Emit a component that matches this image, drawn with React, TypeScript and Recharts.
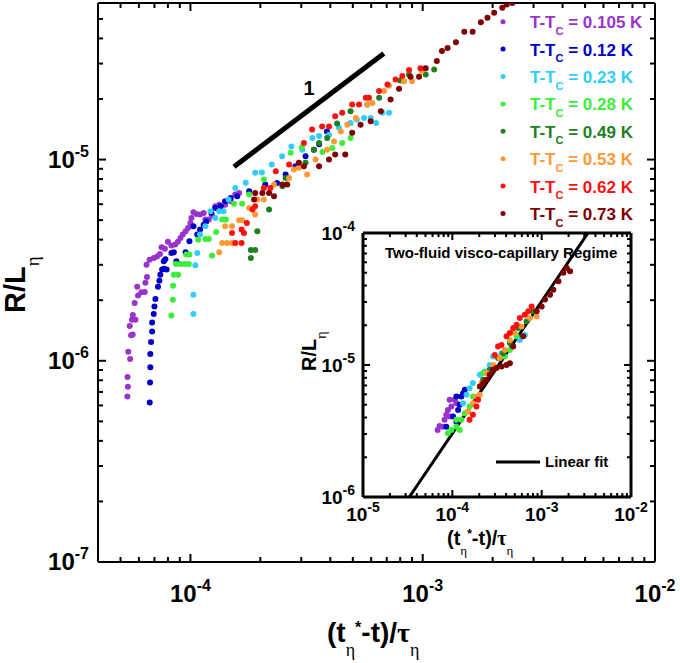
import React from 'react'
import { ScatterChart, Scatter, XAxis, YAxis } from 'recharts'

type Pt = [number, number]

// T - Tc values and colours, in legend order
const tempLabels = ['0.105', '0.12', '0.23', '0.28', '0.49', '0.53', '0.62', '0.73']
const tempColors = ['#9933CC', '#0000C8', '#33CCFF', '#3AEE3A', '#1F801F', '#FF9933', '#FF1010', '#800000']

// main panel: R/L_eta vs (t*-t)/tau_eta
const main0105: Pt[] = [
  [5.35e-5, 6.65e-7], [5.38e-5, 7.43e-7], [5.36e-5, 8.3e-7], [5.5e-5, 1.02e-6], [5.4e-5, 1.11e-6],
  [5.55e-5, 1.34e-6], [5.64e-5, 1.35e-6], [5.48e-5, 1.49e-6], [5.6e-5, 1.6e-6], [5.8e-5, 1.6e-6],
  [5.65e-5, 1.69e-6], [5.75e-5, 1.94e-6], [5.95e-5, 2.11e-6], [6.15e-5, 2.19e-6], [6.36e-5, 2.2e-6],
  [5.9e-5, 2.33e-6], [6.4e-5, 2.44e-6], [6.5e-5, 2.61e-6], [6.47e-5, 3.0e-6], [6.67e-5, 3.18e-6],
  [6.95e-5, 3.24e-6], [7.18e-5, 3.3e-6], [7.39e-5, 3.39e-6], [7.51e-5, 3.67e-6], [7.76e-5, 3.6e-6],
  [8.0e-5, 3.9e-6], [8.28e-5, 3.74e-6], [8.6e-5, 3.78e-6], [8.83e-5, 3.9e-6], [9.06e-5, 4.08e-6],
  [9.27e-5, 4.24e-6], [9.53e-5, 4.4e-6], [9.77e-5, 4.57e-6], [1.0e-4, 4.84e-6], [1.01e-4, 5.13e-6],
  [1.03e-4, 5.47e-6], [1.06e-4, 5.37e-6], [1.1e-4, 5.33e-6], [1.14e-4, 5.43e-6], [1.16e-4, 5.03e-6],
  [1.2e-4, 5.03e-6], [1.24e-4, 5.27e-6], [1.28e-4, 5.86e-6], [1.33e-4, 5.97e-6], [1.41e-4, 5.97e-6],
  [1.49e-4, 6.2e-6], [1.56e-4, 6.7e-6], [1.62e-4, 6.83e-6],
]
const main012: Pt[] = [
  [6.68e-5, 6.2e-7], [6.7e-5, 7.8e-7], [6.72e-5, 9.3e-7], [6.72e-5, 1.08e-6], [6.77e-5, 1.24e-6],
  [6.84e-5, 1.4e-6], [6.84e-5, 1.55e-6], [6.95e-5, 1.71e-6], [7.0e-5, 1.86e-6], [7.07e-5, 2.03e-6],
  [7.25e-5, 2.33e-6], [7.35e-5, 2.5e-6], [7.42e-5, 2.68e-6], [7.55e-5, 2.84e-6], [7.7e-5, 2.87e-6],
  [7.9e-5, 2.84e-6], [7.68e-5, 3.12e-6], [7.8e-5, 3.2e-6], [8.28e-5, 3.43e-6], [8.48e-5, 3.46e-6],
  [8.7e-5, 3.12e-6], [9.53e-5, 3.46e-6], [9.9e-5, 3.93e-6], [1.03e-4, 4.66e-6], [1.07e-4, 4.24e-6],
  [1.1e-4, 4.49e-6], [1.14e-4, 4.75e-6], [1.17e-4, 4.93e-6], [1.23e-4, 5.43e-6], [1.28e-4, 5.75e-6],
  [1.35e-4, 5.86e-6], [1.41e-4, 6.2e-6], [1.49e-4, 6.45e-6], [1.59e-4, 6.57e-6], [1.79e-4, 6.95e-6],
  [2.1e-4, 7.51e-6], [2.36e-4, 7.64e-6], [2.57e-4, 8.42e-6], [2.83e-4, 9.26e-6], [3.13e-4, 1.04e-5],
  [3.4e-4, 1.12e-5], [3.58e-4, 1.19e-5], [3.87e-4, 1.38e-5],
]
const main023: Pt[] = [
  [1.03e-4, 1.71e-6], [1.03e-4, 2.13e-6], [1.05e-4, 2.98e-6], [1.07e-4, 3.43e-6], [1.1e-4, 4.24e-6],
  [1.16e-4, 4.66e-6], [1.22e-4, 5.53e-6], [1.28e-4, 5.13e-6], [1.33e-4, 5.53e-6], [1.39e-4, 5.53e-6],
  [1.46e-4, 6.33e-6], [1.56e-4, 7.23e-6], [1.73e-4, 7.66e-6], [1.9e-4, 8.59e-6], [2.03e-4, 8.62e-6],
  [2.24e-4, 9.44e-6], [2.48e-4, 1.04e-5], [2.72e-4, 1.16e-5], [3.03e-4, 1.12e-5], [3.35e-4, 1.28e-5],
  [3.58e-4, 1.31e-5], [3.95e-4, 1.33e-5], [4.36e-4, 1.44e-5], [4.89e-4, 1.52e-5], [5.2e-4, 1.58e-5],
  [5.59e-4, 1.61e-5], [5.97e-4, 1.61e-5], [6.3e-4, 1.52e-5], [6.7e-4, 1.71e-5], [7.16e-4, 1.71e-5],
]
const main028: Pt[] = [
  [8.28e-5, 1.68e-6], [8.4e-5, 2.01e-6], [8.42e-5, 2.36e-6], [8.48e-5, 2.68e-6], [8.85e-5, 2.68e-6],
  [8.67e-5, 3.03e-6], [9.06e-5, 3.03e-6], [9.46e-5, 3.03e-6], [9.84e-5, 3.03e-6], [9.6e-5, 3.37e-6],
  [9.9e-5, 3.37e-6], [1.08e-4, 4.0e-6], [1.16e-4, 4.03e-6], [1.2e-4, 4.03e-6], [1.24e-4, 3.34e-6],
  [1.29e-4, 4.37e-6], [1.37e-4, 5.03e-6], [1.42e-4, 5.03e-6], [1.54e-4, 6.04e-6], [1.67e-4, 6.04e-6],
  [1.79e-4, 6.7e-6], [2.07e-4, 7.95e-6], [2.7e-4, 1.08e-5], [3.02e-4, 1.15e-5], [3.7e-4, 1.09e-5],
  [4.08e-4, 1.14e-5], [4.5e-4, 1.21e-5], [4.89e-4, 1.28e-5],
]
const main049: Pt[] = [
  [1.82e-4, 3.24e-6], [1.82e-4, 3.55e-6], [1.9e-4, 3.55e-6], [1.94e-4, 4.4e-6], [2.18e-4, 5.64e-6],
  [2.49e-4, 7.36e-6], [2.57e-4, 8.1e-6], [3.13e-4, 9.63e-6], [3.4e-4, 1.12e-5], [3.58e-4, 1.21e-5],
  [3.88e-4, 1.28e-5], [4.28e-4, 1.51e-5], [4.89e-4, 1.74e-5], [5.78e-4, 1.88e-5], [6.49e-4, 2.03e-5],
  [8.0e-4, 2.47e-5], [8.73e-4, 2.65e-5], [1.03e-3, 2.65e-5], [1.12e-3, 2.8e-5],
]
const main053: Pt[] = [
  [1.33e-4, 3.46e-6], [1.37e-4, 3.85e-6], [1.44e-4, 3.85e-6], [1.51e-4, 3.85e-6], [1.41e-4, 4.66e-6],
  [1.51e-4, 4.66e-6], [1.62e-4, 5.0e-6], [1.67e-4, 5.0e-6], [1.79e-4, 5.75e-6], [1.9e-4, 5.33e-6],
  [1.94e-4, 6.33e-6], [2.07e-4, 6.33e-6], [2.29e-4, 7.51e-6], [2.66e-4, 8.1e-6], [2.79e-4, 8.92e-6],
  [2.93e-4, 9.1e-6], [3.18e-4, 8.42e-6], [3.46e-4, 1.0e-5], [3.88e-4, 1.12e-5], [4.15e-4, 1.23e-5],
  [4.44e-4, 1.38e-5], [4.74e-4, 1.49e-5], [5.15e-4, 1.61e-5], [5.78e-4, 1.88e-5], [6.07e-4, 1.91e-5],
  [6.82e-4, 2.19e-5], [7.16e-4, 2.33e-5], [8.31e-4, 2.45e-5], [9.0e-4, 2.45e-5], [9.9e-4, 2.75e-5],
]
const main062: Pt[] = [
  [1.51e-4, 4.32e-6], [1.56e-4, 3.85e-6], [1.66e-4, 3.85e-6], [1.66e-4, 4.49e-6], [1.7e-4, 4.32e-6],
  [1.75e-4, 4.84e-6], [1.85e-4, 5.64e-6], [1.9e-4, 5.86e-6], [2.07e-4, 7.23e-6], [2.21e-4, 7.23e-6],
  [2.33e-4, 8.74e-6], [2.66e-4, 9.44e-6], [3.08e-4, 1.21e-5], [3.34e-4, 1.41e-5], [3.69e-4, 1.46e-5],
  [3.95e-4, 1.46e-5], [4.2e-4, 1.64e-5], [4.5e-4, 1.71e-5], [4.97e-4, 1.88e-5], [5.32e-4, 1.88e-5],
  [5.69e-4, 2.03e-5], [5.87e-4, 2.03e-5], [6.49e-4, 2.19e-5], [7.05e-4, 2.36e-5], [7.64e-4, 2.5e-5],
  [8.17e-4, 2.6e-5], [8.73e-4, 2.79e-5], [9.78e-4, 2.84e-5],
]
const main073: Pt[] = [
  [1.88e-4, 6.33e-6], [1.9e-4, 6.83e-6], [2.04e-4, 6.83e-6], [2.18e-4, 6.83e-6], [2.29e-4, 6.57e-6],
  [2.49e-4, 7.51e-6], [2.61e-4, 7.51e-6], [2.93e-4, 9.63e-6], [3.08e-4, 9.26e-6], [3.58e-4, 9.26e-6],
  [3.95e-4, 1.0e-5], [4.2e-4, 1.06e-5], [4.64e-4, 1.06e-5], [4.97e-4, 1.36e-5], [5.4e-4, 1.49e-5],
  [5.97e-4, 1.55e-5], [6.6e-4, 1.74e-5], [7.27e-4, 1.99e-5], [7.91e-4, 2.25e-5], [8.86e-4, 2.58e-5],
  [9.64e-4, 2.58e-5], [1.03e-3, 2.84e-5], [1.15e-3, 3.09e-5], [1.21e-3, 3.46e-5], [1.28e-3, 3.59e-5],
  [1.39e-3, 3.83e-5], [1.51e-3, 4.32e-5], [1.64e-3, 4.32e-5], [1.78e-3, 4.82e-5], [1.9e-3, 5.07e-5],
  [2.03e-3, 5.37e-5], [2.2e-3, 5.69e-5], [2.3e-3, 5.9e-5], [2.43e-3, 6.0e-5],
]

// inset: two-fluid visco-capillary regime
const inset0105: Pt[] = [
  [6.84e-5, 3.22e-6], [7.19e-5, 3.45e-6], [7.83e-5, 3.41e-6], [8.18e-5, 3.84e-6], [8.56e-5, 4.19e-6],
  [8.93e-5, 4.57e-6], [9.33e-5, 4.07e-6], [9.33e-5, 5.45e-6], [9.75e-5, 4.84e-6], [1.06e-4, 5.45e-6],
  [1.11e-4, 5.14e-6],
]
const inset012: Pt[] = [
  [8.56e-5, 3.41e-6], [1.02e-4, 4.07e-6], [1.11e-4, 3.72e-6], [1.16e-4, 4.57e-6], [1.21e-4, 4.99e-6],
  [1.11e-4, 5.77e-6], [1.26e-4, 5.77e-6], [1.32e-4, 6.12e-6], [1.38e-4, 6.49e-6],
]
const inset023: Pt[] = [
  [1.32e-4, 5.14e-6], [1.44e-4, 5.94e-6], [1.56e-4, 6.68e-6], [1.7e-4, 7.29e-6], [2.03e-4, 8.43e-6],
  [2.31e-4, 8.93e-6], [2.62e-4, 1.0e-5], [2.86e-4, 1.16e-5], [3.55e-4, 1.23e-5], [5.7e-4, 1.55e-5],
  [6.49e-4, 1.69e-5],
]
const inset028: Pt[] = [
  [8.93e-5, 3.04e-6], [9.75e-5, 3.22e-6], [1.11e-4, 3.41e-6], [1.21e-4, 3.22e-6], [1.26e-4, 3.84e-6],
  [1.11e-4, 3.84e-6], [1.38e-4, 4.31e-6], [1.56e-4, 4.84e-6], [1.7e-4, 5.77e-6], [2.21e-4, 8.68e-6],
  [3.87e-4, 1.16e-5], [4.41e-4, 1.3e-5], [5.24e-4, 1.65e-5],
]
const inset049: Pt[] = [
  [2.21e-4, 7.73e-6], [2.62e-4, 9.2e-6], [3.25e-4, 1.13e-5], [3.7e-4, 1.23e-5], [4.41e-4, 1.47e-5],
  [5.46e-4, 1.91e-5], [6.78e-4, 2.14e-5], [8.05e-4, 2.55e-5],
]
const inset053: Pt[] = [
  [1.5e-4, 4.44e-6], [1.7e-4, 5.14e-6], [1.86e-4, 5.77e-6], [2.03e-4, 5.94e-6], [2.12e-4, 7.29e-6],
  [2.41e-4, 8.68e-6], [2.86e-4, 1.0e-5], [3.4e-4, 1.13e-5], [3.87e-4, 1.3e-5], [4.41e-4, 1.55e-5],
  [5.01e-4, 1.75e-5], [5.96e-4, 1.96e-5], [7.39e-4, 2.27e-5], [8.79e-4, 2.33e-5],
]
const inset062: Pt[] = [
  [1.56e-4, 3.84e-6], [1.7e-4, 4.19e-6], [1.86e-4, 4.84e-6], [1.94e-4, 5.45e-6], [2.99e-4, 1.19e-5],
  [3.25e-4, 1.38e-5], [3.55e-4, 1.42e-5], [4.04e-4, 1.65e-5], [4.41e-4, 1.75e-5], [4.8e-4, 1.91e-5],
  [5.24e-4, 2.02e-5], [5.7e-4, 2.27e-5], [6.49e-4, 2.4e-5], [7.07e-4, 2.55e-5], [7.72e-4, 2.78e-5],
]
const inset073: Pt[] = [
  [2.03e-4, 6.87e-6], [2.21e-4, 7.29e-6], [2.41e-4, 7.73e-6], [2.62e-4, 8.43e-6], [2.86e-4, 9.2e-6],
  [3.12e-4, 9.47e-6], [3.55e-4, 9.75e-6], [4.04e-4, 1.0e-5], [4.41e-4, 1.03e-5], [4.8e-4, 1.38e-5],
  [6.21e-4, 1.65e-5], [8.79e-4, 2.55e-5], [1.0e-3, 2.78e-5], [1.09e-3, 3.13e-5], [1.24e-3, 3.41e-5],
  [1.35e-3, 3.72e-5], [1.54e-3, 4.31e-5], [1.75e-3, 4.99e-5], [1.91e-3, 5.44e-5], [2.08e-3, 5.13e-5],
]

const slopeGuide: Pt[] = [[1.54e-4, 9.2e-6], [6.8e-4, 3.37e-5]]
const linearFit: Pt[] = [[3.3e-5, 1e-6], [3.3e-3, 1e-4]]

const mainSeries = [main0105, main012, main023, main028, main049, main053, main062, main073]
const insetSeries = [inset0105, inset012, inset023, inset028, inset049, inset053, inset062, inset073]

const mainXTicks = [
  4e-5, 5e-5, 6e-5, 7e-5, 8e-5, 9e-5,
  1e-4, 2e-4, 3e-4, 4e-4, 5e-4, 6e-4, 7e-4, 8e-4, 9e-4,
  1e-3, 2e-3, 3e-3, 4e-3, 5e-3, 6e-3, 7e-3, 8e-3, 9e-3, 1e-2,
]
const mainYTicks = [
  1e-7, 2e-7, 3e-7, 4e-7, 5e-7, 6e-7, 7e-7, 8e-7, 9e-7,
  1e-6, 2e-6, 3e-6, 4e-6, 5e-6, 6e-6, 7e-6, 8e-6, 9e-6,
  1e-5, 2e-5, 3e-5, 4e-5, 5e-5, 6e-5,
]
const insetXTicks = [
  1e-5, 2e-5, 3e-5, 4e-5, 5e-5, 6e-5, 7e-5, 8e-5, 9e-5,
  1e-4, 2e-4, 3e-4, 4e-4, 5e-4, 6e-4, 7e-4, 8e-4, 9e-4,
  1e-3, 2e-3, 3e-3, 4e-3, 5e-3, 6e-3, 7e-3, 8e-3, 9e-3, 1e-2,
]
const insetYTicks = [
  1e-6, 2e-6, 3e-6, 4e-6, 5e-6, 6e-6, 7e-6, 8e-6, 9e-6,
  1e-5, 2e-5, 3e-5, 4e-5, 5e-5, 6e-5, 7e-5, 8e-5, 9e-5, 1e-4,
]

const SANS = '"Liberation Sans", Arial, sans-serif'
const SERIF = '"Liberation Serif", "Times New Roman", serif'

type Side = 'bottom' | 'top' | 'left' | 'right'
type TickCfg = {
  side: Side
  major: number
  minor: number
  label?: boolean
  font?: number
  sup?: number
  supShift?: number
  gap?: number
  shift?: number
  sw?: number
}

function LogTick(props: any) {
  const { x, y, payload, cfg } = props as { x: number; y: number; payload: { value: number }; cfg: TickCfg }
  const lg = Math.log10(payload.value)
  const isMajor = Math.abs(lg - Math.round(lg)) < 1e-6
  const len = isMajor ? cfg.major : cfg.minor
  let d = ''
  if (cfg.side === 'bottom') d = `M${x},${y}V${y - len}`
  if (cfg.side === 'top') d = `M${x},${y}V${y + len}`
  if (cfg.side === 'left') d = `M${x},${y}H${x + len}`
  if (cfg.side === 'right') d = `M${x},${y}H${x - len}`
  const exp = `${Math.round(lg)}`
  let label = null
  if (cfg.label && isMajor) {
    const font = cfg.font ?? 20
    const sup = cfg.sup ?? 14
    const baseW = 1.112 * font
    const supW = (exp.length === 2 ? 0.889 : 0.556) * sup
    const gap = cfg.gap ?? 0
    let bx = 0
    let by = 0
    if (cfg.side === 'bottom') {
      bx = x - (baseW + supW) / 2
      by = y + gap
    } else {
      bx = x - gap - supW - baseW
      by = y + (cfg.shift ?? 0)
    }
    const common = { fontFamily: SANS, fontWeight: 'bold' as const, fill: '#000' }
    label = (
      <g>
        <text x={bx} y={by} fontSize={font} {...common}>10</text>
        <text x={bx + baseW} y={by - (cfg.supShift ?? 0)} fontSize={sup} {...common}>{exp}</text>
      </g>
    )
  }
  return (
    <g>
      <path d={d} stroke="#000" strokeWidth={cfg.sw ?? 2} fill="none" />
      {label}
    </g>
  )
}

const tickFn = (cfg: TickCfg) => (p: any) => <LogTick {...p} cfg={cfg} />

const dot = (color: string, r: number) => (p: any) =>
  p.cx == null ? <g /> : <circle cx={p.cx} cy={p.cy} r={r} fill={color} />

const noShape = () => <g />

const toXY = (pts: Pt[]) => pts.map(([x, y]) => ({ x, y }))

export default function App() {
  const frame = { stroke: '#000', strokeWidth: 2 }
  const insetFrame = { stroke: '#000', strokeWidth: 3 }
  const layer: React.CSSProperties = { position: 'absolute', left: 0, top: 0 }

  return (
    <div style={{ position: 'absolute', left: 0, top: 0, width: 680, height: 663, background: '#fff' }}>
      <div style={layer}>
        <ScatterChart width={680} height={663} margin={{ top: 2, right: 0, bottom: 0, left: 0 }}>
          <XAxis
            xAxisId="b"
            dataKey="x"
            type="number"
            scale="log"
            domain={[4e-5, 1e-2]}
            allowDataOverflow
            ticks={mainXTicks}
            interval={0}
            height={101}
            stroke="#000"
            tickSize={0}
            tickMargin={0}
            tickLine={false}
            axisLine={frame}
            tick={tickFn({ side: 'bottom', major: 8, minor: 5, label: true, font: 24, sup: 16, supShift: 11, gap: 40 })}
          />
          <XAxis
            xAxisId="t"
            orientation="top"
            dataKey="x"
            type="number"
            scale="log"
            domain={[4e-5, 1e-2]}
            allowDataOverflow
            ticks={mainXTicks}
            interval={0}
            height={1}
            stroke="#000"
            tickSize={0}
            tickMargin={0}
            tickLine={false}
            axisLine={frame}
            tick={tickFn({ side: 'top', major: 8, minor: 5 })}
          />
          <YAxis
            yAxisId="l"
            dataKey="y"
            type="number"
            scale="log"
            domain={[1e-7, 6e-5]}
            allowDataOverflow
            ticks={mainYTicks}
            interval={0}
            width={98}
            stroke="#000"
            tickSize={0}
            tickMargin={0}
            tickLine={false}
            axisLine={frame}
            tick={tickFn({ side: 'left', major: 8, minor: 5, label: true, font: 24, sup: 16, supShift: 11, gap: 9, shift: 8 })}
          />
          <YAxis
            yAxisId="r"
            orientation="right"
            dataKey="y"
            type="number"
            scale="log"
            domain={[1e-7, 6e-5]}
            allowDataOverflow
            ticks={mainYTicks}
            interval={0}
            width={25}
            stroke="#000"
            tickSize={0}
            tickMargin={0}
            tickLine={false}
            axisLine={frame}
            tick={tickFn({ side: 'right', major: 8, minor: 5 })}
          />
          {mainSeries.map((pts, i) => (
            <Scatter
              key={tempLabels[i]}
              xAxisId="b"
              yAxisId="l"
              data={toXY(pts)}
              shape={dot(tempColors[i], 3)}
              isAnimationActive={false}
            />
          ))}
          <Scatter
            xAxisId="b"
            yAxisId="l"
            data={toXY(slopeGuide)}
            line={{ stroke: '#000', strokeWidth: 5 }}
            shape={noShape}
            isAnimationActive={false}
          />
        </ScatterChart>
      </div>

      <div style={layer}>
        <ScatterChart width={680} height={663} margin={{ top: 232, right: 0, bottom: 0, left: 0 }}>
          <XAxis
            xAxisId="b"
            dataKey="x"
            type="number"
            scale="log"
            domain={[1e-5, 1e-2]}
            allowDataOverflow
            ticks={insetXTicks}
            interval={0}
            height={166}
            stroke="#000"
            tickSize={0}
            tickMargin={0}
            tickLine={false}
            axisLine={insetFrame}
            tick={tickFn({ side: 'bottom', major: 7, minor: 4, label: true, font: 19, sup: 14, supShift: 9, gap: 24 })}
          />
          <XAxis
            xAxisId="t"
            orientation="top"
            dataKey="x"
            type="number"
            scale="log"
            domain={[1e-5, 1e-2]}
            allowDataOverflow
            ticks={insetXTicks}
            interval={0}
            height={1}
            stroke="#000"
            tickSize={0}
            tickMargin={0}
            tickLine={false}
            axisLine={insetFrame}
            tick={tickFn({ side: 'top', major: 7, minor: 4 })}
          />
          <YAxis
            yAxisId="l"
            dataKey="y"
            type="number"
            scale="log"
            domain={[1e-6, 1e-4]}
            allowDataOverflow
            ticks={insetYTicks}
            interval={0}
            width={363}
            stroke="#000"
            tickSize={0}
            tickMargin={0}
            tickLine={false}
            axisLine={insetFrame}
            tick={tickFn({ side: 'left', major: 7, minor: 4, label: true, font: 19, sup: 14, supShift: 9, gap: 8, shift: 7 })}
          />
          <YAxis
            yAxisId="r"
            orientation="right"
            dataKey="y"
            type="number"
            scale="log"
            domain={[1e-6, 1e-4]}
            allowDataOverflow
            ticks={insetYTicks}
            interval={0}
            width={49}
            stroke="#000"
            tickSize={0}
            tickMargin={0}
            tickLine={false}
            axisLine={insetFrame}
            tick={tickFn({ side: 'right', major: 7, minor: 4 })}
          />
          <Scatter
            xAxisId="b"
            yAxisId="l"
            data={toXY(linearFit)}
            line={{ stroke: '#000', strokeWidth: 3 }}
            shape={noShape}
            isAnimationActive={false}
          />
          {insetSeries.map((pts, i) => (
            <Scatter
              key={tempLabels[i]}
              xAxisId="b"
              yAxisId="l"
              data={toXY(pts)}
              shape={dot(tempColors[i], 3)}
              isAnimationActive={false}
            />
          ))}
        </ScatterChart>
      </div>

      <svg width={680} height={663} style={{ ...layer, pointerEvents: 'none' }}>
        {/* main axis titles */}
        <text transform="translate(25,313) rotate(-90)" fontFamily={SANS} fontWeight="bold" fontSize={29}>
          R/L
          <tspan dy={14} fontFamily={SERIF} fontWeight="normal" fontSize={19}>η</tspan>
        </text>
        <text x={327} y={642} fontFamily={SANS} fontWeight="bold" fontSize={28}>
          (t
          <tspan dy={14} fontFamily={SERIF} fontWeight="normal" fontSize={18}>η</tspan>
          <tspan dy={-23} fontSize={16}>*</tspan>
          <tspan dy={9}>-t)/</tspan>
          <tspan fontFamily={SERIF}>τ</tspan>
          <tspan dy={14} fontFamily={SERIF} fontWeight="normal" fontSize={18}>η</tspan>
        </text>
        <text x={309} y={95} textAnchor="middle" fontFamily={SANS} fontWeight="bold" fontSize={20}>
          1
        </text>

        {/* legend */}
        {tempLabels.map((t, i) => {
          const cy = 21.7 + i * 27.4
          return (
            <g key={t}>
              <circle cx={503} cy={cy} r={2.5} fill={tempColors[i]} />
              <text x={530} y={cy + 6.5} fontFamily={SANS} fontWeight="bold" fontSize={17} fill={tempColors[i]}>
                T-T
                <tspan dy={6.5} fontSize={11}>C</tspan>
                <tspan dy={-6.5}>{` = ${t} K`}</tspan>
              </text>
            </g>
          )
        })}

        {/* inset texts */}
        <text x={385} y={258} fontFamily={SANS} fontWeight="bold" fontSize={15}>
          Two-fluid visco-capillary Regime
        </text>
        <line x1={496} y1={462} x2={540} y2={462} stroke="#000" strokeWidth={3} />
        <text x={545} y={467} fontFamily={SANS} fontWeight="bold" fontSize={15}>
          Linear fit
        </text>
        <text transform="translate(316,371) rotate(-90)" fontFamily={SANS} fontWeight="bold" fontSize={20}>
          R/L
          <tspan dy={10} fontFamily={SERIF} fontWeight="normal" fontSize={14}>η</tspan>
        </text>
        <text x={447} y={545} fontFamily={SANS} fontWeight="bold" fontSize={20}>
          (t
          <tspan dy={10} fontFamily={SERIF} fontWeight="normal" fontSize={13}>η</tspan>
          <tspan dy={-17} fontSize={12}>*</tspan>
          <tspan dy={7}>-t)/</tspan>
          <tspan fontFamily={SERIF}>τ</tspan>
          <tspan dy={10} fontFamily={SERIF} fontWeight="normal" fontSize={13}>η</tspan>
        </text>
      </svg>
    </div>
  )
}
